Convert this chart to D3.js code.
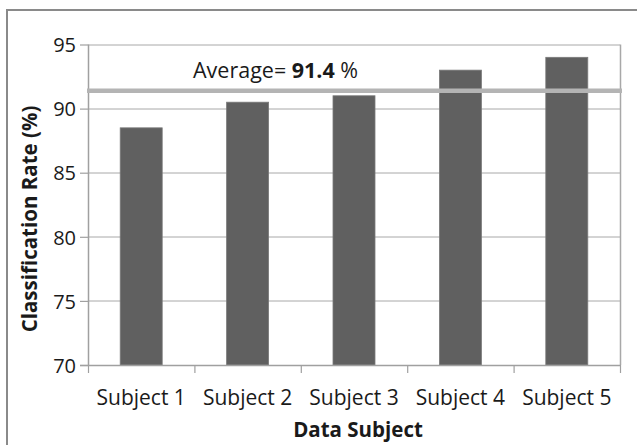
<!DOCTYPE html>
<html>
<head>
<meta charset="utf-8">
<script src="https://cdn.jsdelivr.net/npm/d3@7"></script>
<style>
  html, body { margin: 0; padding: 0; background: #fff; }
  svg { display: block; }
  text { font-family: "Open Sans", "Noto Sans", sans-serif; fill: #1a1a1a; }
</style>
</head>
<body>
<svg id="chart" width="637" height="445"></svg>
<script>
const categories = ["Subject 1", "Subject 2", "Subject 3", "Subject 4", "Subject 5"];
const rates = [88.5, 90.5, 91.0, 93.0, 94.0];
const yTicks = [70, 75, 80, 85, 90, 95];
const averageValue = 91.4;
const averageLabel = "Average= ";
const averageNumber = "91.4";
const averageUnit = " %";
const xTitle = "Data Subject";
const yTitle = "Classification Rate (%)";

const svg = d3.select("#chart");
const W = 637, H = 445;
const m = { left: 88, right: 17, top: 44.5, bottom: 80 };
const plotW = W - m.left - m.right;   // 532
const plotH = H - m.top - m.bottom;   // ~320

svg.append("rect").attr("width", W).attr("height", H).attr("fill", "#fff");

// outer frame (top and left visible)
svg.append("rect")
  .attr("x", 7).attr("y", 10)
  .attr("width", W + 10).attr("height", H + 10)
  .attr("fill", "none").attr("stroke", "#8a8a8a").attr("stroke-width", 2);

const g = svg.append("g").attr("transform", `translate(${m.left},${m.top})`);

const x = d3.scaleBand().domain(categories).range([0, plotW]).paddingInner(0.6).paddingOuter(0.3);
const xOuter = d3.scaleBand().domain(categories).range([0, plotW]);
const y = d3.scaleLinear().domain([70, 95]).range([320.5, 0]);

// gridlines
g.append("g").selectAll("line").data(yTicks.filter(t => t !== 70)).join("line")
  .attr("x1", 0).attr("x2", plotW)
  .attr("y1", d => Math.round(y(d)) + 0.5).attr("y2", d => Math.round(y(d)) + 0.5)
  .attr("stroke", "#a8a8a8").attr("stroke-width", 1);

// right border of plot area
g.append("line")
  .attr("x1", plotW + 0.5).attr("x2", plotW + 0.5)
  .attr("y1", y(95)).attr("y2", y(70))
  .attr("stroke", "#a8a8a8").attr("stroke-width", 1.5);

// bars
g.append("g").selectAll("rect").data(rates).join("rect")
  .attr("x", (d, i) => xOuter(categories[i]) + xOuter.bandwidth() / 2 - 21)
  .attr("width", 42)
  .attr("y", d => y(d))
  .attr("height", d => y(70) - y(d))
  .attr("fill", "#606060")
  .attr("stroke", "#7a7a7a").attr("stroke-width", 0.8);

// y axis
const yAxis = g.append("g").call(
  d3.axisLeft(y).tickValues(yTicks).tickSize(8).tickPadding(4).tickFormat(d3.format("d"))
);
yAxis.select(".domain").attr("stroke", "#a0a0a0").attr("stroke-width", 1.5)
  .attr("d", `M0.5,${y(95)}V${y(70)}`);
yAxis.selectAll(".tick line").attr("stroke", "#a0a0a0").attr("stroke-width", 1.2);
yAxis.selectAll(".tick text")
  .style("font-family", "'Open Sans', sans-serif")
  .style("font-size", "20px").attr("fill", "#1a1a1a").attr("dy", "0.36em");

// x axis
const xAxis = g.append("g").attr("transform", `translate(0,${y(70)})`);
xAxis.append("line").attr("x1", -8).attr("x2", plotW + 1)
  .attr("y1", 0.5).attr("y2", 0.5).attr("stroke", "#a0a0a0").attr("stroke-width", 1.5);
const bounds = d3.range(categories.length + 1).map(i => i * xOuter.step());
xAxis.selectAll("line.tk").data(bounds).join("line").attr("class", "tk")
  .attr("x1", d => d + 0.5).attr("x2", d => d + 0.5)
  .attr("y1", 0).attr("y2", 8)
  .attr("stroke", "#a0a0a0").attr("stroke-width", 1.2);
xAxis.selectAll("text").data(categories).join("text")
  .attr("x", d => xOuter(d) + xOuter.bandwidth() / 2)
  .attr("y", 405 - m.top - y(70))
  .attr("text-anchor", "middle")
  .style("font-size", "21px")
  .text(d => d);

// average line
g.append("line")
  .attr("x1", -1).attr("x2", plotW + 2)
  .attr("y1", y(averageValue)).attr("y2", y(averageValue))
  .attr("stroke", "#b4b4b4").attr("stroke-width", 4.5);

// average label
const avgText = svg.append("text")
  .attr("x", 193).attr("y", 78)
  .style("font-size", "21.5px");
avgText.append("tspan").text(averageLabel);
avgText.append("tspan").attr("font-weight", "bold").text(averageNumber);
avgText.append("tspan").text(averageUnit);

// axis titles
svg.append("text")
  .attr("x", 358).attr("y", 437)
  .attr("text-anchor", "middle")
  .attr("font-weight", "bold")
  .style("font-size", "20.5px")
  .text(xTitle);

svg.append("text")
  .attr("transform", "translate(37,219) rotate(-90)")
  .attr("text-anchor", "middle")
  .attr("font-weight", "bold")
  .style("font-size", "20.5px")
  .text(yTitle);
</script>
</body>
</html>
